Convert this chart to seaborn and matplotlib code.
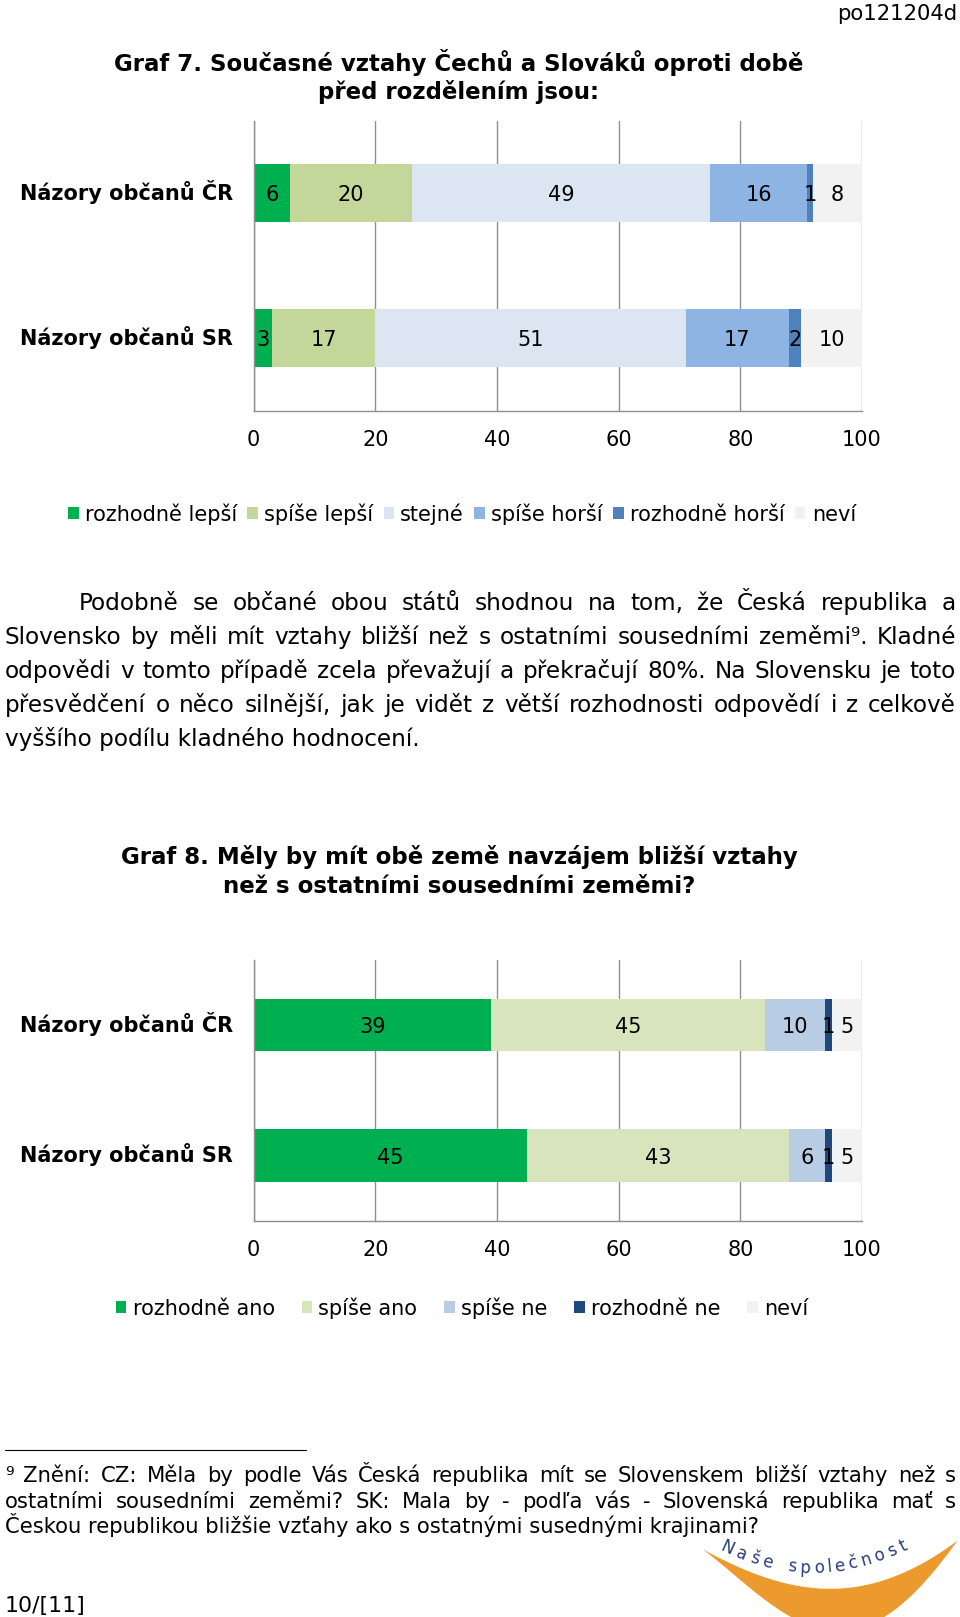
import numpy as np
import pandas as pd
import matplotlib
matplotlib.use("Agg")
import matplotlib.pyplot as plt
import seaborn as sns
from matplotlib.patches import Patch, Polygon
from matplotlib.transforms import ScaledTranslation

# ---------------- data ----------------
cats = ["Názory občanů ČR", "Názory občanů SR"]

g7_series = ["rozhodně lepší", "spíše lepší", "stejné", "spíše horší", "rozhodně horší", "neví"]
g7_cr = [6, 20, 49, 16, 1, 8]
g7_sr = [3, 17, 51, 17, 2, 10]
g7_colors = ["#00B050", "#C4D79B", "#DCE6F2", "#8DB4E2", "#4F81BD", "#F2F2F2"]

g8_series = ["rozhodně ano", "spíše ano", "spíše ne", "rozhodně ne", "neví"]
g8_cr = [39, 45, 10, 1, 5]
g8_sr = [45, 43, 6, 1, 5]
g8_colors = ["#00B050", "#D8E4BC", "#B8CCE4", "#1F497D", "#F2F2F2"]

xticks = [0, 20, 40, 60, 80, 100]

g7_title = ["Graf 7. Současné vztahy Čechů a Slováků oproti době", "před rozdělením jsou:"]
g8_title = ["Graf 8. Měly by mít obě země navzájem bližší vztahy", "než s ostatními sousedními zeměmi?"]

para_lines = [
    "Podobně se občané obou států shodnou na tom, že Česká republika a",
    "Slovensko by měli mít vztahy bližší než s ostatními sousedními zeměmi⁹. Kladné",
    "odpovědi v tomto případě zcela převažují a překračují 80%. Na Slovensku je toto",
    "přesvědčení o něco silnější, jak je vidět z větší rozhodnosti odpovědí i z celkově",
    "vyššího podílu kladného hodnocení.",
]
foot_lines = [
    "⁹ Znění: CZ: Měla by podle Vás Česká republika mít se Slovenskem bližší vztahy než s",
    "ostatními sousedními zeměmi? SK: Mala by - podľa vás - Slovenská republika mať s",
    "Českou republikou bližšie vzťahy ako s ostatnými susednými krajinami?",
]
page_id = "po121204d"
page_no = "10/[11]"
logo_text = "Naše společnost"

# ---------------- style ----------------
sns.set_style("white")
plt.rcParams["font.family"] = ["DejaVu Sans"]
for key in ["text.color", "axes.labelcolor", "xtick.color", "ytick.color"]:
    plt.rcParams[key] = "black"
GRID = "#8F8F8F"

W, H = 960, 1617
fig = plt.figure(figsize=(W / 100, H / 100), dpi=100)
bg = fig.add_axes([0, 0, 1, 1], zorder=0)
bg.set_xlim(0, W)
bg.set_ylim(H, 0)
bg.axis("off")
R = fig.canvas.get_renderer()


def text_width(s, fs, weight="normal"):
    t = bg.text(0, 0, s, fontsize=fs, fontweight=weight)
    w = t.get_window_extent(renderer=R).width
    t.remove()
    return w


def fit_size(s, target, weight="normal"):
    return 10 * target / text_width(s, 10, weight)


def justify(line, x0, x1, y, fs):
    words = line.split(" ")
    ts = [bg.text(0, y, w, fontsize=fs, va="baseline", ha="left") for w in words]
    ws = [t.get_window_extent(renderer=R).width for t in ts]
    gap = (x1 - x0 - sum(ws)) / max(len(ws) - 1, 1)
    x = x0
    for t, w in zip(ts, ws):
        t.set_x(x)
        x += w + gap


# ---------------- titles ----------------
fs_title = fit_size(g7_title[0], 691, "bold")
for line, yb in zip(g7_title, [70.5, 99]):
    bg.text(459, yb, line, fontsize=fs_title, fontweight="bold", ha="center", va="baseline")
for line, yb in zip(g8_title, [864, 893]):
    bg.text(459, yb, line, fontsize=fs_title, fontweight="bold", ha="center", va="baseline")

bg.text(957, 20, page_id, fontsize=fit_size(page_id, 120), ha="right", va="baseline")
bg.text(5, 1612, page_no, fontsize=fit_size(page_no, 81), ha="left", va="baseline")

# ---------------- paragraph ----------------
fs_para = fit_size(para_lines[-1], 413)
fs_para = min(fs_para, fit_size(para_lines[0], 877))
for ln in para_lines[1:-1]:
    fs_para = min(fs_para, fit_size(ln, 951))
for i, ln in enumerate(para_lines):
    yb = 610 + 34 * i
    if i == len(para_lines) - 1:
        bg.text(5, yb, ln, fontsize=fs_para, va="baseline", ha="left")
    elif i == 0:
        justify(ln, 79, 956, yb, fs_para)
    else:
        justify(ln, 5, 956, yb, fs_para)

# ---------------- footnote ----------------
bg.plot([5, 306], [1450, 1450], color="black", lw=0.8)
fs_foot = fit_size(foot_lines[-1], 756)
for ln in foot_lines[:-1]:
    fs_foot = min(fs_foot, fit_size(ln, 951))
for i, (ln, yb) in enumerate(zip(foot_lines, [1482, 1507.5, 1533])):
    if i == len(foot_lines) - 1:
        bg.text(5, yb, ln, fontsize=fs_foot, va="baseline", ha="left")
    else:
        justify(ln, 5, 956, yb, fs_foot)

# ---------------- logo ----------------
up_x = [704, 750, 790, 830, 880, 907, 935, 958]
up_y = [1550, 1572, 1584, 1589, 1582, 1570, 1557, 1540]
lo_x = [704, 750, 790, 840, 885, 923, 958]
lo_y = [1550, 1590, 1613, 1634, 1615, 1584, 1540]
xx = np.linspace(704, 958, 120)
yu = np.polyval(np.polyfit(up_x, up_y, 4), xx)
yl = np.polyval(np.polyfit(lo_x, lo_y, 4), xx)
yl = np.maximum(yl, yu)
bg.add_patch(Polygon(np.vstack([np.column_stack([xx, yu]), np.column_stack([xx, yl])[::-1]]),
                     closed=True, facecolor="#EC9A2D", edgecolor="none", clip_on=False))
fs_logo = 12
chars = list(logo_text)
cw = [text_width(c, fs_logo) if c != " " else 9 for c in chars]
cw = [w + 3.0 for w in cw]
xs0, xs1 = 727, 903
scale = (xs1 - xs0) / (sum(cw) - cw[0] / 2 - cw[-1] / 2)
x = xs0
pos = []
for i, w in enumerate(cw):
    pos.append(x)
    if i + 1 < len(cw):
        x += (w / 2 + cw[i + 1] / 2) * scale
x0c, ymax, k = 812, 1568, 0.0027
for c, px in zip(chars, pos):
    if c == " ":
        continue
    py = ymax - k * (px - x0c) ** 2
    ang = np.degrees(np.arctan(2 * k * (px - x0c)))
    bg.text(px, py, c, fontsize=fs_logo, color="#2A3C7C", ha="center", va="center",
            rotation=ang, rotation_mode="anchor")

# ---------------- charts ----------------
FS = 15


def make_axes(top, bottom, left=253.6, right=862):
    return fig.add_axes([left / W, 1 - bottom / H, (right - left) / W, (bottom - top) / H], zorder=1)


def stacked(ax, series, colors, rows):
    df = pd.DataFrame(rows, index=cats, columns=series)
    cum = df.cumsum(axis=1)
    for s, c in reversed(list(zip(series, colors))):
        d = pd.DataFrame({"cat": cats, "end": cum[s].values})
        sns.barplot(data=d, x="end", y="cat", order=cats, color=c, saturation=1,
                    width=0.4, orient="y", ax=ax, errorbar=None, linewidth=0, zorder=2)
    for i, cat in enumerate(cats):
        for s in series:
            v = df.loc[cat, s]
            ax.text(cum.loc[cat, s] - v / 2, i, str(v), ha="center", va="center_baseline",
                    fontsize=FS, color="black", zorder=3)
    ax.set_xlim(0, 100)
    ax.set_ylim(1.5, -0.5)
    ax.set_xlabel("")
    ax.set_ylabel("")
    ax.set_xticks(xticks)
    ax.set_xticklabels([str(v) for v in xticks], fontsize=FS)
    ax.set_yticks(range(len(cats)))
    ax.set_yticklabels(cats, fontsize=FS, fontweight="bold")
    ax.set_yticks([-0.5, 0.5, 1.5], minor=True)
    ax.tick_params(axis="y", which="major", length=0, pad=14.8)
    ax.tick_params(axis="y", which="minor", length=3.6, width=0.9, color=GRID, direction="out")
    ax.tick_params(axis="x", which="major", length=3.6, width=0.9, color=GRID, direction="out", pad=10)
    shift = ScaledTranslation(0, 3 / 100, fig.dpi_scale_trans)
    for lab in ax.get_yticklabels():
        lab.set_transform(lab.get_transform() + shift)
    ax.set_axisbelow(True)
    ax.grid(False)
    ax.xaxis.grid(True, color=GRID, lw=1.0)
    for sp in ["top", "right"]:
        ax.spines[sp].set_visible(False)
    for sp in ["left", "bottom"]:
        ax.spines[sp].set_color(GRID)
        ax.spines[sp].set_linewidth(1.0)
    ax.patch.set_alpha(0)


ax1 = make_axes(120.6, 410.7)
stacked(ax1, g7_series, g7_colors, [g7_cr, g7_sr])
ax2 = make_axes(960, 1220.7)
stacked(ax2, g8_series, g8_colors, [g8_cr, g8_sr])


def legend(series, colors, cy, colsp):
    handles = [Patch(facecolor=c, edgecolor="none") for c in colors]
    fig.legend(handles, series, loc="center", bbox_to_anchor=(462 / W, 1 - cy / H),
               ncol=len(series), frameon=False, fontsize=FS, handlelength=0.5,
               handleheight=0.5, handletextpad=0.3, columnspacing=colsp,
               borderpad=0, borderaxespad=0)


legend(g7_series, g7_colors, 514, 0.5)
legend(g8_series, g8_colors, 1308, 1.29)

fig.savefig("out.png", dpi=100)
